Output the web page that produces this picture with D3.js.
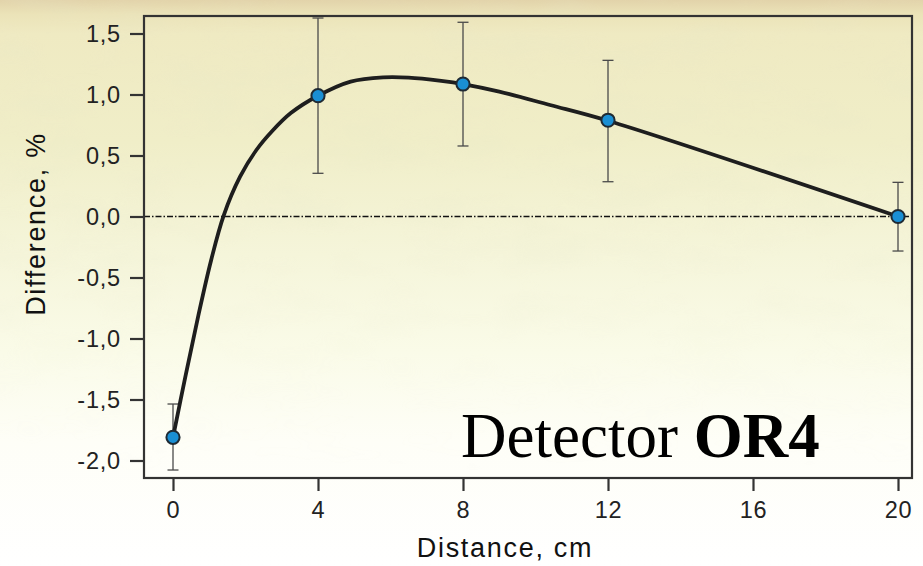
<!DOCTYPE html>
<html>
<head>
<meta charset="utf-8">
<script src="https://cdn.jsdelivr.net/npm/d3@7"></script>
<style>
  html, body { margin: 0; padding: 0; background: #ffffff; }
  svg { display: block; }
</style>
</head>
<body>
<svg id="chart" width="923" height="566"></svg>
<script>
// Measured points: distance (cm), difference (%), and the error bar bounds
const distances = [0, 4, 8, 12, 20];
const differences = [-1.81, 0.99, 1.086, 0.789, 0.0];
const errorLow = [-2.078, 0.354, 0.578, 0.285, -0.283];
const errorHigh = [-1.537, 1.627, 1.592, 1.28, 0.28];

// Fitted trend curve through the measurements
const fitDistances = [0, 0.35, 0.7, 1.05, 1.4, 1.85, 2.3, 2.75, 3.25, 4.0, 4.9, 5.8, 6.5, 7.4, 8.0, 9.0, 10.4, 12.0, 20.0];
const fitDifferences = [-1.81, -1.30, -0.81, -0.36, 0.01, 0.326, 0.545, 0.705, 0.848, 0.99, 1.106, 1.141, 1.139, 1.112, 1.086, 1.024, 0.914, 0.785, 0.0];

// Axis ticks
const xTicks = [0, 4, 8, 12, 16, 20];
const xTickLabels = ["0", "4", "8", "12", "16", "20"];
const yTicks = [1.5, 1.0, 0.5, 0.0, -0.5, -1.0, -1.5, -2.0];
const yTickLabels = ["1,5", "1,0", "0,5", "0,0", "-0,5", "-1,0", "-1,5", "-2,0"];

const svg = d3.select("#chart");
const W = 923, H = 566;
const frame = { left: 144, right: 912, top: 16, bottom: 478 };

const x = d3.scaleLinear().domain([0, 20]).range([173, 898]);
const y = d3.scaleLinear().domain([-2, 1.5]).range([460.5, 33.5]);

// ---- background: pale olive paper tone fading to white, with a faint grain ----
const defs = svg.append("defs");
const bg = defs.append("linearGradient").attr("id", "bgGrad")
  .attr("x1", 0).attr("y1", 0).attr("x2", 0).attr("y2", 1);
[[0, "#e2d3aa"], [0.025, "#ebe3b8"], [0.06, "#efeac2"], [0.25, "#f0eec8"],
 [0.45, "#f5f5da"], [0.62, "#fafbe8"], [0.78, "#fefef7"], [1, "#ffffff"]]
  .forEach(([o, c]) => bg.append("stop").attr("offset", o).attr("stop-color", c));

const fade = defs.append("linearGradient").attr("id", "grainFade")
  .attr("x1", 0).attr("y1", 0).attr("x2", 0).attr("y2", 1);
[[0, 1], [0.4, 0.75], [0.7, 0.2], [0.85, 0]]
  .forEach(([o, a]) => fade.append("stop").attr("offset", o).attr("stop-color", "#fff").attr("stop-opacity", a));
defs.append("mask").attr("id", "grainMask")
  .append("rect").attr("width", W).attr("height", H).attr("fill", "url(#grainFade)");

const grain = defs.append("filter").attr("id", "grain")
  .attr("x", 0).attr("y", 0).attr("width", "100%").attr("height", "100%");
grain.append("feTurbulence").attr("type", "fractalNoise")
  .attr("baseFrequency", "0.012 0.03").attr("numOctaves", 3).attr("seed", 7).attr("result", "noise");
grain.append("feColorMatrix").attr("in", "noise").attr("type", "matrix")
  .attr("values", "0 0 0 0 0.80  0 0 0 0 0.79  0 0 0 0 0.58  0 0 0 1.1 -0.45");

svg.append("rect").attr("width", W).attr("height", H).attr("fill", "url(#bgGrad)");
svg.append("rect").attr("width", W).attr("height", H)
  .attr("filter", "url(#grain)").attr("mask", "url(#grainMask)").attr("opacity", 0.4);

// ---- zero reference line ----
svg.append("line")
  .attr("x1", frame.left).attr("x2", frame.right)
  .attr("y1", y(0)).attr("y2", y(0))
  .attr("stroke", "#111").attr("stroke-width", 1.3)
  .attr("stroke-dasharray", "6,2,1.5,2");

// ---- axes ----
const tickColor = "#333";
const xAxis = svg.append("g")
  .attr("transform", `translate(0,${frame.bottom})`)
  .call(d3.axisBottom(x).tickValues(xTicks)
    .tickFormat((d, i) => xTickLabels[i]).tickSize(13).tickPadding(5));
const yAxis = svg.append("g")
  .attr("transform", `translate(${frame.left},0)`)
  .call(d3.axisLeft(y).tickValues(yTicks)
    .tickFormat((d, i) => yTickLabels[i]).tickSize(14).tickPadding(9));
[xAxis, yAxis].forEach(g => {
  g.select(".domain").remove();
  g.selectAll(".tick line").attr("stroke", tickColor).attr("stroke-width", 2.2);
  g.selectAll(".tick text")
    .attr("fill", "#222")
    .style("font-family", "'Liberation Sans', Arial, sans-serif")
    .style("font-size", "23.5px")
    .style("letter-spacing", "0.8px");
});
xAxis.selectAll(".tick text").attr("dy", "0.95em");

// ---- plot frame ----
svg.append("rect")
  .attr("x", frame.left).attr("y", frame.top)
  .attr("width", frame.right - frame.left).attr("height", frame.bottom - frame.top)
  .attr("fill", "none").attr("stroke", "#333").attr("stroke-width", 2.2);

// ---- axis titles ----
svg.append("text")
  .attr("x", 505).attr("y", 557)
  .attr("text-anchor", "middle")
  .style("font-family", "'Liberation Sans', Arial, sans-serif")
  .style("font-size", "27px").style("letter-spacing", "1.7px")
  .attr("fill", "#111")
  .text("Distance, cm");
svg.append("text")
  .attr("transform", "translate(45,224) rotate(-90)")
  .attr("text-anchor", "middle")
  .style("font-family", "'Liberation Sans', Arial, sans-serif")
  .style("font-size", "27px").style("letter-spacing", "1.7px")
  .attr("fill", "#111")
  .text("Difference, %");

// ---- error bars ----
const pts = distances.map((d, i) => ({ x: d, v: differences[i], lo: errorLow[i], hi: errorHigh[i] }));
const eb = svg.append("g").attr("stroke", "#4a4a4a").attr("stroke-width", 1.3).attr("fill", "none");
const capHalf = 5.5;
pts.forEach(p => {
  eb.append("line").attr("x1", x(p.x)).attr("x2", x(p.x)).attr("y1", y(p.lo)).attr("y2", y(p.hi));
  eb.append("line").attr("x1", x(p.x) - capHalf).attr("x2", x(p.x) + capHalf).attr("y1", y(p.hi)).attr("y2", y(p.hi));
  eb.append("line").attr("x1", x(p.x) - capHalf).attr("x2", x(p.x) + capHalf).attr("y1", y(p.lo)).attr("y2", y(p.lo));
});

// ---- fitted curve ----
const fit = fitDistances.map((d, i) => [d, fitDifferences[i]]);
svg.append("path")
  .datum(fit)
  .attr("fill", "none")
  .attr("stroke", "#1e1e1e")
  .attr("stroke-width", 3.8)
  .attr("stroke-linejoin", "round")
  .attr("stroke-linecap", "round")
  .attr("d", d3.line().x(d => x(d[0])).y(d => y(d[1])).curve(d3.curveCatmullRom.alpha(0.5)));

// ---- markers ----
svg.append("g").selectAll("circle").data(pts).join("circle")
  .attr("cx", d => x(d.x)).attr("cy", d => y(d.v)).attr("r", 6.6)
  .attr("fill", "#1a8fd4").attr("stroke", "#1f2a33").attr("stroke-width", 2);

// ---- detector label ----
const lbl = svg.append("text")
  .attr("x", 461).attr("y", 457)
  .style("font-family", "'Liberation Serif', 'Times New Roman', serif")
  .style("font-size", "63px")
  .attr("fill", "#000");
lbl.append("tspan").text("Detector ");
lbl.append("tspan").attr("font-weight", "bold").text("OR4");
</script>
</body>
</html>
